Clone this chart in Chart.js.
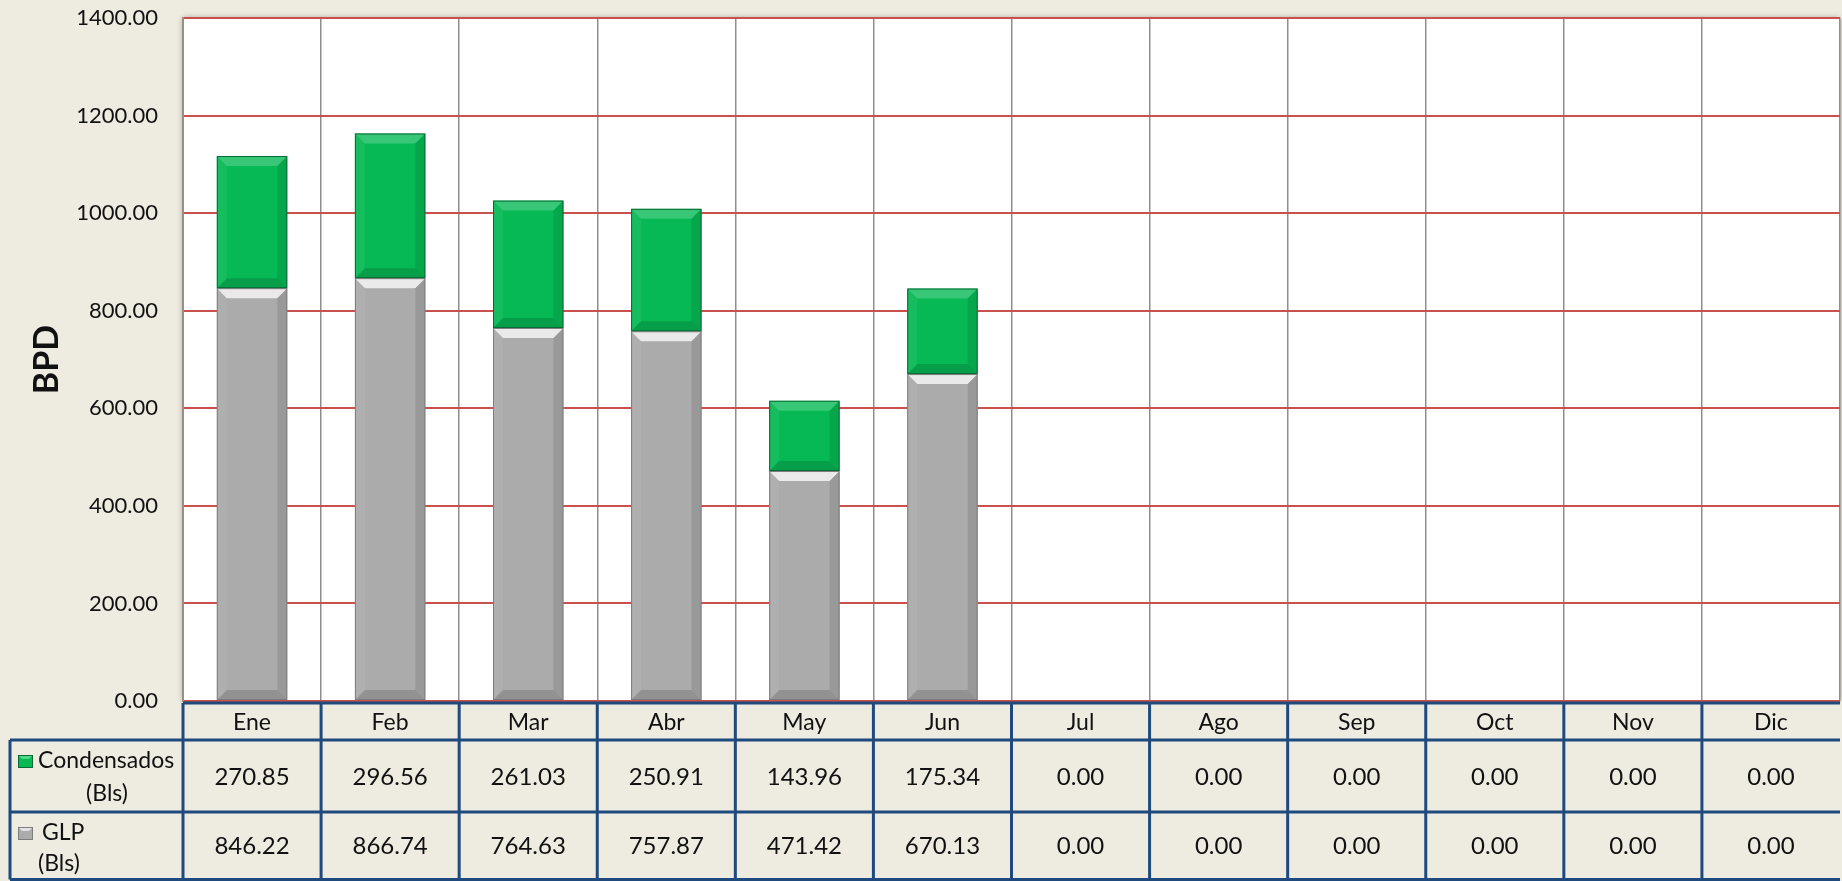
<!DOCTYPE html>
<html>
<head>
<meta charset="utf-8">
<script src="https://cdn.jsdelivr.net/npm/chart.js@4.4.0/dist/chart.umd.min.js"></script>
<style>
  html, body { margin: 0; padding: 0; background: #EEEBE0; }
  #wrap { position: relative; width: 1842px; height: 881px; }
</style>
</head>
<body>
<div id="wrap"><canvas id="chart"></canvas></div>
<script>
// data
const months = ["Ene", "Feb", "Mar", "Abr", "May", "Jun", "Jul", "Ago", "Sep", "Oct", "Nov", "Dic"];
const condensados = [270.85, 296.56, 261.03, 250.91, 143.96, 175.34, 0, 0, 0, 0, 0, 0];
const glp = [846.22, 866.74, 764.63, 757.87, 471.42, 670.13, 0, 0, 0, 0, 0, 0];
const seriesNames = ["Condensados", "GLP"];
const yMax = 1400;
const yStep = 200;

const FONT = "Lato, 'Open Sans', sans-serif";
const GREEN = "#07B955";
const GRAY = "#ABABAB";
const BLUE = "#1F4A7E";

function poly(ctx, pts, fill) {
  ctx.beginPath();
  ctx.moveTo(pts[0][0], pts[0][1]);
  for (let i = 1; i < pts.length; i++) ctx.lineTo(pts[i][0], pts[i][1]);
  ctx.closePath();
  ctx.fillStyle = fill;
  ctx.fill();
}

// white plot area with a soft shadow on the edges
const plotBg = {
  id: "plotBg",
  beforeDraw(chart) {
    const { ctx, chartArea: a } = chart;
    ctx.save();
    ctx.shadowColor = "rgba(0,0,0,0.35)";
    ctx.shadowBlur = 6;
    ctx.fillStyle = "#fff";
    ctx.fillRect(a.left, a.top, a.right - a.left, a.bottom - a.top);
    ctx.restore();
  },
};

// bevel look on the bars
const bevel = {
  id: "bevel",
  afterDatasetsDraw(chart) {
    const ctx = chart.ctx;
    ctx.save();
    chart.data.datasets.forEach((ds, di) => {
      const meta = chart.getDatasetMeta(di);
      meta.data.forEach((bar) => {
        const { x, y, base, width } = bar.getProps(["x", "y", "base", "width"], true);
        const h = base - y;
        if (h <= 1) return;
        const l = x - width / 2, r = x + width / 2, t = y, b = base;
        const d = Math.min(10, h / 2);
        const topCol = di === 0 ? "rgba(255,255,255,0.75)" : "rgba(255,255,255,0.2)";
        poly(ctx, [[l, t], [r, t], [r - d, t + d], [l + d, t + d]], topCol);
        poly(ctx, [[l, b], [r, b], [r - d, b - d], [l + d, b - d]], "rgba(0,0,0,0.14)");
        poly(ctx, [[l, t], [l + d, t + d], [l + d, b - d], [l, b]], "rgba(255,255,255,0.06)");
        poly(ctx, [[r, t], [r - d, t + d], [r - d, b - d], [r, b]], "rgba(0,0,0,0.1)");
        ctx.strokeStyle = di === 0 ? "#7d7d7d" : "#0a6a35";
        ctx.lineWidth = 1;
        ctx.strokeRect(l + 0.5, t + 0.5, width - 1, h - 1);
      });
    });
    ctx.restore();
  },
};

function legendIcon(ctx, x, y, color, light, edge) {
  ctx.fillStyle = color;
  ctx.fillRect(x, y, 15, 13);
  poly(ctx, [[x, y], [x + 15, y], [x + 11, y + 4], [x + 4, y + 4]], light);
  ctx.strokeStyle = edge;
  ctx.lineWidth = 1;
  ctx.strokeRect(x + 0.5, y + 0.5, 14, 12);
}

// data table under the plot
const dataTable = {
  id: "dataTable",
  afterDraw(chart) {
    const { ctx, chartArea: a, scales } = chart;
    const xs = scales.x;
    const colW = (a.right - a.left) / months.length;
    const y0 = a.bottom + 2, y1 = 740, y2 = 812, y3 = 879.5;
    const tableLeft = 10;
    ctx.save();
    ctx.fillStyle = "#EEEBE0";
    ctx.fillRect(a.left, y0, a.right - a.left, y3 - y0);
    ctx.fillRect(tableLeft, y1, a.left - tableLeft, y3 - y1);

    ctx.fillStyle = "#111";
    ctx.textAlign = "center";
    ctx.textBaseline = "middle";
    months.forEach((m, i) => {
      const cx = xs.getPixelForValue(i);
      ctx.font = "23px " + FONT;
      ctx.fillText(m, cx, (y0 + y1) / 2 + 1);
      ctx.font = "24px " + FONT;
      ctx.fillText(condensados[i].toFixed(2), cx, (y1 + y2) / 2 + 1);
      ctx.fillText(glp[i].toFixed(2), cx, (y2 + y3) / 2 + 1);
    });

    // row headers
    legendIcon(ctx, 18, 755, GREEN, "#4fd98a", "#0a6a35");
    legendIcon(ctx, 18, 827, GRAY, "#e2e2e2", "#7d7d7d");
    ctx.font = "23px " + FONT;
    ctx.fillStyle = "#111";
    ctx.textAlign = "left";
    ctx.fillText(seriesNames[0], 38, 761);
    ctx.textAlign = "center";
    ctx.fillText("(Bls)", 107, 794);
    ctx.textAlign = "left";
    ctx.fillText(seriesNames[1], 42, 833);
    ctx.fillText("(Bls)", 38, 864);

    ctx.strokeStyle = BLUE;
    ctx.lineWidth = 3;
    ctx.beginPath();
    ctx.moveTo(a.left, y0); ctx.lineTo(a.right, y0);
    ctx.moveTo(tableLeft, y1); ctx.lineTo(a.right, y1);
    ctx.moveTo(tableLeft, y2); ctx.lineTo(a.right, y2);
    ctx.moveTo(tableLeft, y3); ctx.lineTo(a.right, y3);
    ctx.moveTo(tableLeft, y1); ctx.lineTo(tableLeft, y3);
    for (let i = 0; i < months.length; i++) {
      const lx = a.left + i * colW;
      ctx.moveTo(lx, y0); ctx.lineTo(lx, y3);
    }
    ctx.stroke();
    ctx.restore();
  },
};

new Chart(document.getElementById("chart"), {
  type: "bar",
  data: {
    labels: months,
    datasets: [
      { label: seriesNames[1], data: glp, backgroundColor: GRAY, borderWidth: 0 },
      { label: seriesNames[0], data: condensados, backgroundColor: GREEN, borderWidth: 0 },
    ],
  },
  options: {
    responsive: true,
    maintainAspectRatio: false,
    devicePixelRatio: 1,
    animation: false,
    layout: { padding: { top: 18, right: 2, bottom: 180, left: 0 } },
    plugins: { legend: { display: false }, tooltip: { enabled: false } },
    datasets: { bar: { barPercentage: 0.51, categoryPercentage: 1 } },
    scales: {
      x: {
        stacked: true,
        ticks: { display: false },
        grid: { color: "#8e8e8e", lineWidth: 1.5, drawTicks: false, offset: true },
        border: { display: false },
        afterFit: (s) => { s.height = 0; },
      },
      y: {
        stacked: true,
        min: 0,
        max: yMax,
        ticks: {
          stepSize: yStep,
          padding: 25,
          color: "#111",
          font: { family: FONT, size: 22 },
          callback: (v) => Number(v).toFixed(2),
        },
        grid: { color: "#C9504D", lineWidth: 2, drawTicks: false },
        border: { display: true, color: "#9a8f88", width: 2 },
        title: {
          display: true,
          text: "BPD",
          color: "#111",
          font: { family: FONT, size: 34, weight: "bold" },
          padding: { top: 27, bottom: 0 },
        },
        afterFit: (s) => {
          s.width = 183;
          s.paddingTop = 0;
          s.paddingBottom = 0;
        },
      },
    },
  },
  plugins: [plotBg, bevel, dataTable],
});
</script>
</body>
</html>
